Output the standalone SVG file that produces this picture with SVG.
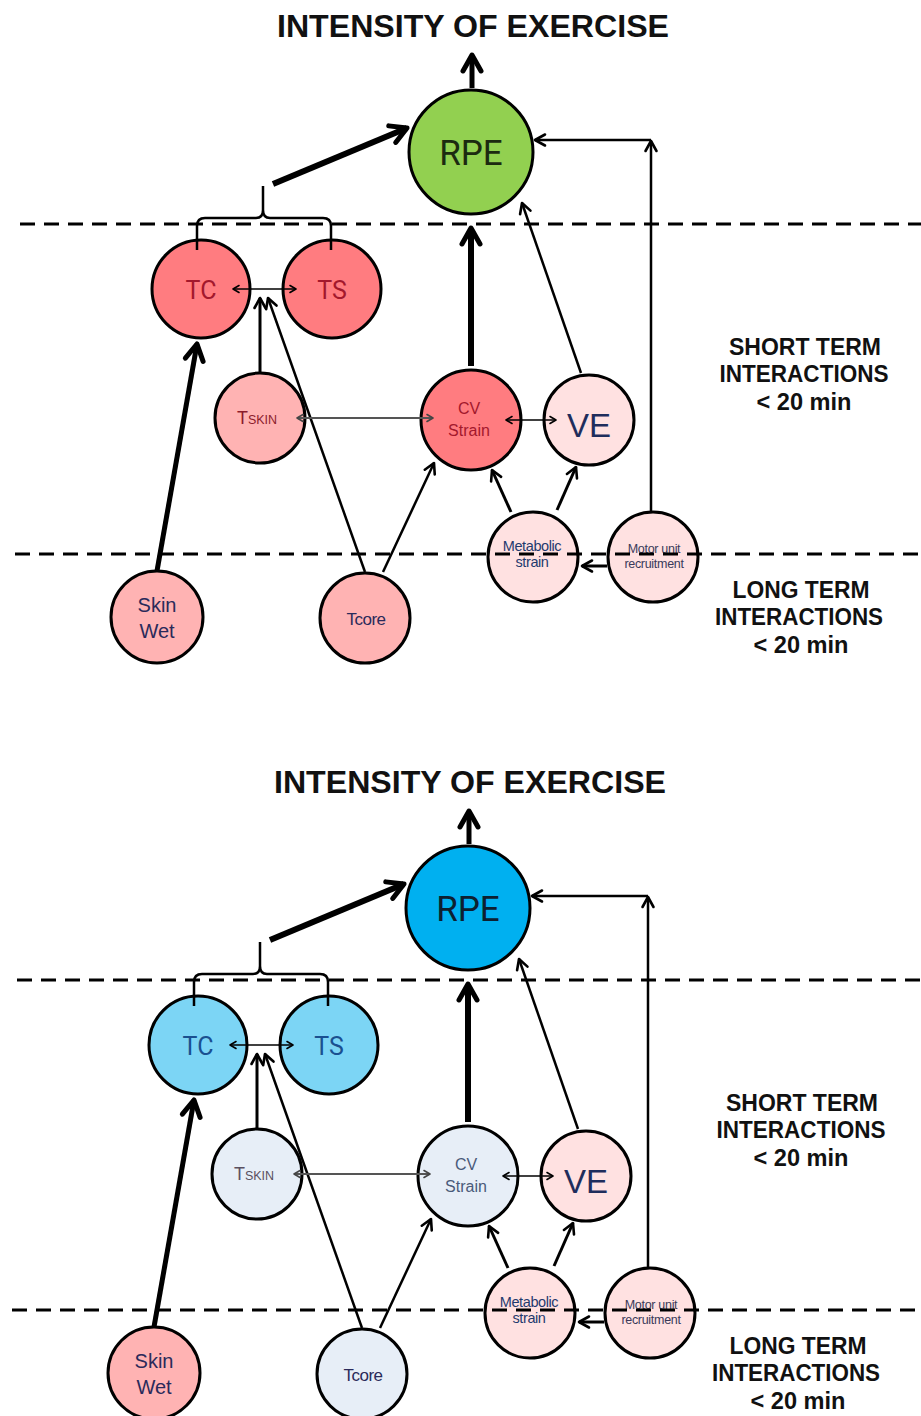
<svg xmlns="http://www.w3.org/2000/svg" width="921" height="1416" viewBox="0 0 921 1416">
<style>
.nd{stroke:#000;stroke-width:3}
.t{font-family:"Liberation Sans",Arial,sans-serif;text-anchor:middle}
.rb{font-family:Roboto,"Liberation Sans",sans-serif;text-anchor:middle}
.hd{font-family:"Liberation Sans",Arial,sans-serif;font-weight:bold;text-anchor:middle;fill:#111}
.c{fill:none;stroke:#000}
.dash{fill:none;stroke:#000;stroke-width:3;stroke-dasharray:15 9}
</style>
<defs>
<marker id="mBig" viewBox="0 0 26 26" markerWidth="26" markerHeight="26" refX="21" refY="13" orient="auto" markerUnits="userSpaceOnUse"><path d="M5,4 L21,13 L5,22" fill="none" stroke="#000" stroke-width="5" stroke-linejoin="round" stroke-linecap="round"/></marker>
<marker id="mMed" viewBox="0 0 16 16" markerWidth="16" markerHeight="16" refX="13" refY="8" orient="auto" markerUnits="userSpaceOnUse"><path d="M3,2.5 L13,8 L3,13.5" fill="none" stroke="#000" stroke-width="2.6" stroke-linejoin="round" stroke-linecap="round"/></marker>
<marker id="mSm" viewBox="0 0 12 12" markerWidth="12" markerHeight="12" refX="10" refY="6" orient="auto-start-reverse" markerUnits="userSpaceOnUse"><path d="M4,2.5 L10,6 L4,9.5" fill="none" stroke="#000" stroke-width="1.6" stroke-linejoin="round" stroke-linecap="round"/></marker>
<marker id="mGr" viewBox="0 0 12 12" markerWidth="12" markerHeight="12" refX="10" refY="6" orient="auto-start-reverse" markerUnits="userSpaceOnUse"><path d="M4,2.5 L10,6 L4,9.5" fill="none" stroke="#444" stroke-width="1.6" stroke-linejoin="round" stroke-linecap="round"/></marker>
</defs>
<rect width="921" height="1416" fill="#fff"/>

<!-- ===== TOP PANEL ===== -->
<g id="panel-top">
<text class="hd" x="473" y="37" font-size="31" textLength="392" lengthAdjust="spacingAndGlyphs">INTENSITY OF EXERCISE</text>
<g id="rpe-top"><circle class="nd" cx="471" cy="152" r="62" fill="#92d050"/><text class="rb" x="471" y="165" font-size="35" fill="#1c2a10">RPE</text></g>
<g id="tc-top"><circle class="nd" cx="201" cy="289" r="49" fill="#ff7c80"/><text class="rb" x="201" y="299" font-size="25" fill="#a3182c">TC</text></g>
<g id="ts-top"><circle class="nd" cx="332" cy="289" r="49" fill="#ff7c80"/><text class="rb" x="332" y="299" font-size="25" fill="#a3182c">TS</text></g>
<g id="tskin-top"><circle class="nd" cx="260" cy="418" r="45" fill="#ffb3b3"/><text class="t" x="257" y="424" font-size="18" fill="#8c1c2c">T<tspan font-size="12.5">SKIN</tspan></text></g>
<g id="cv-top"><circle class="nd" cx="471" cy="420" r="50" fill="#ff7c80"/><text class="t" x="469" y="414" font-size="16" fill="#a3182c">CV</text><text class="t" x="469" y="436" font-size="16" fill="#a3182c">Strain</text></g>
<g id="ve-top"><circle class="nd" cx="589" cy="420" r="45" fill="#ffe1e1"/><text class="t" x="589" y="437" font-size="33" fill="#1f2d5c">VE</text></g>
<g id="metabolic-top"><circle class="nd" cx="533" cy="557" r="45" fill="#ffe1e1"/><text class="t" x="532" y="551" font-size="14.5" fill="#1f3a6e" letter-spacing="-0.4">Metabolic</text><text class="t" x="532" y="567" font-size="14.5" fill="#1f3a6e" letter-spacing="-0.4">strain</text></g>
<g id="motor-top"><circle class="nd" cx="653" cy="557" r="45" fill="#ffe1e1"/><text class="t" x="654" y="553" font-size="12.5" fill="#3a3a5a" letter-spacing="-0.3">Motor unit</text><text class="t" x="654" y="568" font-size="12.5" fill="#3a3a5a" letter-spacing="-0.3">recruitment</text></g>
<g id="skinwet-top"><circle class="nd" cx="157" cy="617" r="46" fill="#ffb3b3"/><text class="t" x="157" y="612" font-size="20" fill="#2a2a5a">Skin</text><text class="t" x="157" y="638" font-size="20" fill="#2a2a5a">Wet</text></g>
<g id="tcore-top"><circle class="nd" cx="365" cy="618" r="45" fill="#ffb3b3"/><text class="t" x="366" y="625" font-size="17" fill="#2a2a5a" letter-spacing="-0.5">Tcore</text></g>
<g id="connectors-top">
<line class="c" x1="472" y1="88" x2="472" y2="55" stroke-width="5" marker-end="url(#mBig)"/>
<line class="c" x1="273" y1="184" x2="407" y2="128" stroke-width="6" marker-end="url(#mBig)"/>
<path class="c" stroke-width="2.5" d="M197,250 L197,226 Q197,218 205,218 L256,218 Q263,218 263,210 L263,186 L263,210 Q263,218 270,218 L323,218 Q331,218 331,226 L331,250"/>
<line class="c" x1="471" y1="366" x2="471" y2="228" stroke-width="6" marker-end="url(#mBig)"/>
<line class="c" x1="581" y1="373" x2="522" y2="203" stroke-width="2.5" marker-end="url(#mMed)"/>
<line class="c" x1="651" y1="513" x2="651" y2="141" stroke-width="2.5" marker-end="url(#mMed)"/>
<line class="c" x1="651" y1="140" x2="535" y2="140" stroke-width="2.5" marker-end="url(#mMed)"/>
<line class="c" x1="157" y1="571" x2="197" y2="344" stroke-width="5" marker-end="url(#mBig)"/>
<line class="c" x1="260" y1="373" x2="260" y2="298" stroke-width="3" marker-end="url(#mMed)"/>
<line class="c" x1="365" y1="572" x2="268" y2="298" stroke-width="2.5" marker-end="url(#mMed)"/>
<line class="c" x1="383" y1="572" x2="434" y2="463" stroke-width="2.5" marker-end="url(#mMed)"/>
<line class="c" x1="511" y1="512" x2="492" y2="470" stroke-width="3" marker-end="url(#mMed)"/>
<line class="c" x1="557" y1="510" x2="576" y2="467" stroke-width="3" marker-end="url(#mMed)"/>
<line class="c" x1="607" y1="566" x2="582" y2="566" stroke-width="3" marker-end="url(#mMed)"/>
<line class="c" x1="233" y1="289" x2="296" y2="289" stroke-width="1.6" marker-start="url(#mSm)" marker-end="url(#mSm)"/>
<line x1="297" y1="418" x2="433" y2="418" stroke="#555" stroke-width="2" marker-start="url(#mGr)" marker-end="url(#mGr)"/>
<line class="c" x1="506" y1="420" x2="556" y2="420" stroke-width="1.6" marker-start="url(#mSm)" marker-end="url(#mSm)"/>
</g>
<g id="labels-top">
<text class="hd" x="805" y="355" font-size="24" textLength="152" lengthAdjust="spacingAndGlyphs">SHORT TERM</text>
<text class="hd" x="804" y="382" font-size="24" textLength="169" lengthAdjust="spacingAndGlyphs">INTERACTIONS</text>
<text class="hd" x="804" y="410" font-size="24" textLength="95" lengthAdjust="spacingAndGlyphs">&lt; 20 min</text>
<text class="hd" x="801" y="598" font-size="24" textLength="137" lengthAdjust="spacingAndGlyphs">LONG TERM</text>
<text class="hd" x="799" y="625" font-size="24" textLength="168" lengthAdjust="spacingAndGlyphs">INTERACTIONS</text>
<text class="hd" x="801" y="653" font-size="24" textLength="95" lengthAdjust="spacingAndGlyphs">&lt; 20 min</text>
</g>
<line class="dash" x1="20" y1="224" x2="921" y2="224"/>
<line class="dash" x1="15" y1="554" x2="921" y2="554"/>
</g>

<!-- ===== BOTTOM PANEL ===== -->
<g id="panel-bottom" transform="translate(-3,756)">
<text class="hd" x="473" y="37" font-size="31" textLength="392" lengthAdjust="spacingAndGlyphs">INTENSITY OF EXERCISE</text>
<g id="rpe-bottom"><circle class="nd" cx="471" cy="152" r="62" fill="#00b0f0"/><text class="rb" x="471" y="165" font-size="35" fill="#0d2030">RPE</text></g>
<g id="tc-bottom"><circle class="nd" cx="201" cy="289" r="49" fill="#7cd5f5"/><text class="rb" x="201" y="299" font-size="25" fill="#1a5090">TC</text></g>
<g id="ts-bottom"><circle class="nd" cx="332" cy="289" r="49" fill="#7cd5f5"/><text class="rb" x="332" y="299" font-size="25" fill="#1a5090">TS</text></g>
<g id="tskin-bottom"><circle class="nd" cx="260" cy="418" r="45" fill="#e7eef7"/><text class="t" x="257" y="424" font-size="18" fill="#5a5060">T<tspan font-size="12.5">SKIN</tspan></text></g>
<g id="cv-bottom"><circle class="nd" cx="471" cy="420" r="50" fill="#e7eef7"/><text class="t" x="469" y="414" font-size="16" fill="#4a5a7a">CV</text><text class="t" x="469" y="436" font-size="16" fill="#4a5a7a">Strain</text></g>
<g id="ve-bottom"><circle class="nd" cx="589" cy="420" r="45" fill="#ffe1e1"/><text class="t" x="589" y="437" font-size="33" fill="#1f2d5c">VE</text></g>
<g id="metabolic-bottom"><circle class="nd" cx="533" cy="557" r="45" fill="#ffe1e1"/><text class="t" x="532" y="551" font-size="14.5" fill="#1f3a6e" letter-spacing="-0.4">Metabolic</text><text class="t" x="532" y="567" font-size="14.5" fill="#1f3a6e" letter-spacing="-0.4">strain</text></g>
<g id="motor-bottom"><circle class="nd" cx="653" cy="557" r="45" fill="#ffe1e1"/><text class="t" x="654" y="553" font-size="12.5" fill="#3a3a5a" letter-spacing="-0.3">Motor unit</text><text class="t" x="654" y="568" font-size="12.5" fill="#3a3a5a" letter-spacing="-0.3">recruitment</text></g>
<g id="skinwet-bottom"><circle class="nd" cx="157" cy="617" r="46" fill="#ffb3b3"/><text class="t" x="157" y="612" font-size="20" fill="#2a2a5a">Skin</text><text class="t" x="157" y="638" font-size="20" fill="#2a2a5a">Wet</text></g>
<g id="tcore-bottom"><circle class="nd" cx="365" cy="618" r="45" fill="#e7eef7"/><text class="t" x="366" y="625" font-size="17" fill="#2a2a5a" letter-spacing="-0.5">Tcore</text></g>
<g id="connectors-bottom">
<line class="c" x1="472" y1="88" x2="472" y2="55" stroke-width="5" marker-end="url(#mBig)"/>
<line class="c" x1="273" y1="184" x2="407" y2="128" stroke-width="6" marker-end="url(#mBig)"/>
<path class="c" stroke-width="2.5" d="M197,250 L197,226 Q197,218 205,218 L256,218 Q263,218 263,210 L263,186 L263,210 Q263,218 270,218 L323,218 Q331,218 331,226 L331,250"/>
<line class="c" x1="471" y1="366" x2="471" y2="228" stroke-width="6" marker-end="url(#mBig)"/>
<line class="c" x1="581" y1="373" x2="522" y2="203" stroke-width="2.5" marker-end="url(#mMed)"/>
<line class="c" x1="651" y1="513" x2="651" y2="141" stroke-width="2.5" marker-end="url(#mMed)"/>
<line class="c" x1="651" y1="140" x2="535" y2="140" stroke-width="2.5" marker-end="url(#mMed)"/>
<line class="c" x1="157" y1="571" x2="197" y2="344" stroke-width="5" marker-end="url(#mBig)"/>
<line class="c" x1="260" y1="373" x2="260" y2="298" stroke-width="3" marker-end="url(#mMed)"/>
<line class="c" x1="365" y1="572" x2="268" y2="298" stroke-width="2.5" marker-end="url(#mMed)"/>
<line class="c" x1="383" y1="572" x2="434" y2="463" stroke-width="2.5" marker-end="url(#mMed)"/>
<line class="c" x1="511" y1="512" x2="492" y2="470" stroke-width="3" marker-end="url(#mMed)"/>
<line class="c" x1="557" y1="510" x2="576" y2="467" stroke-width="3" marker-end="url(#mMed)"/>
<line class="c" x1="607" y1="566" x2="582" y2="566" stroke-width="3" marker-end="url(#mMed)"/>
<line class="c" x1="233" y1="289" x2="296" y2="289" stroke-width="1.6" marker-start="url(#mSm)" marker-end="url(#mSm)"/>
<line x1="297" y1="418" x2="433" y2="418" stroke="#555" stroke-width="2" marker-start="url(#mGr)" marker-end="url(#mGr)"/>
<line class="c" x1="506" y1="420" x2="556" y2="420" stroke-width="1.6" marker-start="url(#mSm)" marker-end="url(#mSm)"/>
</g>
<g id="labels-bottom">
<text class="hd" x="805" y="355" font-size="24" textLength="152" lengthAdjust="spacingAndGlyphs">SHORT TERM</text>
<text class="hd" x="804" y="382" font-size="24" textLength="169" lengthAdjust="spacingAndGlyphs">INTERACTIONS</text>
<text class="hd" x="804" y="410" font-size="24" textLength="95" lengthAdjust="spacingAndGlyphs">&lt; 20 min</text>
<text class="hd" x="801" y="598" font-size="24" textLength="137" lengthAdjust="spacingAndGlyphs">LONG TERM</text>
<text class="hd" x="799" y="625" font-size="24" textLength="168" lengthAdjust="spacingAndGlyphs">INTERACTIONS</text>
<text class="hd" x="801" y="653" font-size="24" textLength="95" lengthAdjust="spacingAndGlyphs">&lt; 20 min</text>
</g>
<line class="dash" x1="20" y1="224" x2="924" y2="224"/>
<line class="dash" x1="15" y1="554" x2="924" y2="554"/>
</g>
</svg>
